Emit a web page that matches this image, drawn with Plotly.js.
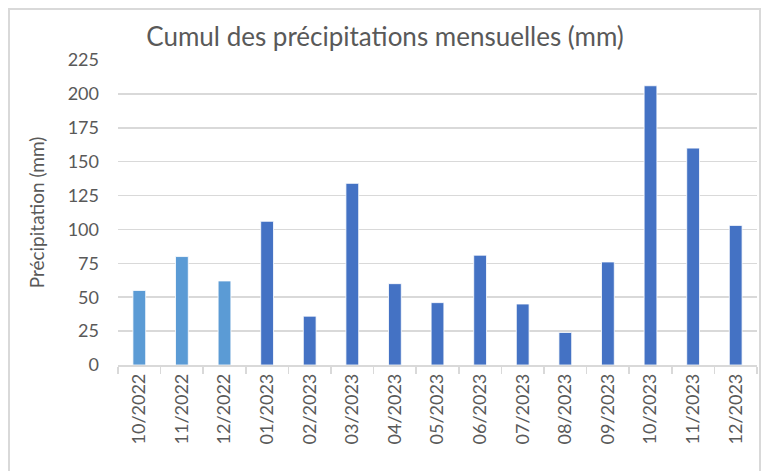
<!DOCTYPE html>
<html>
<head>
<meta charset="utf-8">
<script src="https://cdn.plot.ly/plotly-3.0.1.min.js"></script>
<style>
  html, body { margin: 0; padding: 0; background: #ffffff; }
  #wrap { position: relative; width: 761px; height: 471px; overflow: hidden; }
  #chart { width: 761px; height: 471px; }
  #frame { position: absolute; left: 8px; top: 8px; width: 749px; height: 480px;
           border: 2px solid #d9d9d9; pointer-events: none; }
</style>
</head>
<body>
<div id="wrap">
  <div id="chart"></div>
  <div id="frame"></div>
</div>
<script>
const months = ["10/2022","11/2022","12/2022","01/2023","02/2023","03/2023","04/2023","05/2023",
                "06/2023","07/2023","08/2023","09/2023","10/2023","11/2023","12/2023"];
const precipitation = [55, 80, 62, 106, 36, 134, 60, 46, 81, 45, 24, 76, 206, 160, 103];
const barColors = ["#5b9bd5","#5b9bd5","#5b9bd5","#4472c4","#4472c4","#4472c4","#4472c4","#4472c4",
                   "#4472c4","#4472c4","#4472c4","#4472c4","#4472c4","#4472c4","#4472c4"];
const yTicks = [0, 25, 50, 75, 100, 125, 150, 175, 200, 225];

const textColor = "#595959";
const fontFamily = "Lato, 'Open Sans', sans-serif";

const trace = {
  type: "bar",
  x: months,
  y: precipitation,
  width: 0.3,
  marker: { color: barColors, line: { color: "#ffffff", width: 0.8 } },
  hoverinfo: "x+y"
};

const layout = {
  width: 761,
  height: 471,
  margin: { l: 118, r: 4, t: 60, b: 106 },
  paper_bgcolor: "#ffffff",
  plot_bgcolor: "#ffffff",
  showlegend: false,
  bargap: 0.7,
  title: {
    text: "Cumul des précipitations mensuelles (mm)",
    font: { family: fontFamily, size: 26, color: textColor },
    xref: "container", x: 0.506, xanchor: "center",
    yref: "container", y: 0.921, yanchor: "middle"
  },
  xaxis: {
    type: "category",
    tickangle: -90,
    tickson: "boundaries",
    ticks: "outside",
    ticklen: 7,
    tickcolor: "#d9d9d9",
    tickwidth: 1.5,
    showline: true,
    linecolor: "#d9d9d9",
    linewidth: 1.5,
    showgrid: false,
    tickfont: { family: fontFamily, size: 18, color: textColor },
    automargin: false
  },
  yaxis: {
    range: [0, 225],
    tickvals: yTicks,
    ticktext: yTicks.map(String),
    showgrid: true,
    gridcolor: "#d9d9d9",
    gridwidth: 1.5,
    zeroline: false,
    showline: false,
    ticks: "",
    ticklabelstandoff: 18,
    tickfont: { family: fontFamily, size: 18, color: textColor },
    title: {
      text: "Précipitation (mm)",
      font: { family: fontFamily, size: 19, color: textColor },
      standoff: 18
    },
    automargin: false
  }
};

Plotly.newPlot("chart", [trace], layout, { displayModeBar: false, staticPlot: true });
</script>
</body>
</html>
